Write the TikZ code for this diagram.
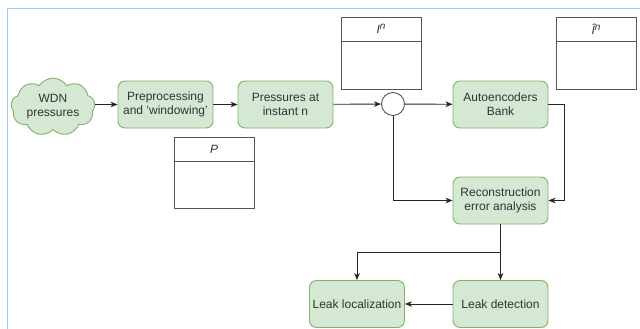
\documentclass[tikz,border=0pt]{standalone}
\usepackage{fontspec}
\setmainfont{Liberation Sans}
\usetikzlibrary{shapes.symbols,arrows.meta}
\definecolor{gfill}{HTML}{D5E8D4}
\definecolor{gdraw}{HTML}{82B366}
\definecolor{frameblue}{HTML}{99CCFF}
\definecolor{tblgray}{HTML}{555555}
\definecolor{txtgray}{HTML}{333333}
\newcommand{\supn}{\raisebox{3.5pt}{\fontsize{10}{10}\selectfont\itshape n}}
\tikzset{
  procbox/.style={draw=gdraw, fill=gfill, rounded corners=7, line width=0.9,
    minimum width=95, minimum height=47, align=center, inner sep=0,
    text=txtgray, font=\fontsize{12}{14}\selectfont},
  wdncloud/.style={cloud, draw=gdraw, fill=gfill, line width=0.9, cloud puffs=9,
    cloud puff arc=115, aspect=1.6, minimum width=84, minimum height=52,
    inner sep=0, align=center, text=txtgray, font=\fontsize{12}{14}\selectfont},
  tbl/.style={draw=tblgray, line width=0.9, minimum width=80, minimum height=72,
    inner sep=0},
  tblhead/.style={font=\fontsize{12}{14}\selectfont\itshape, text=txtgray, inner sep=0},
  junction/.style={circle, draw=tblgray, fill=white, line width=0.9,
    minimum size=23, inner sep=0},
  arr/.style={draw=black!85, line width=0.9, -{Stealth[length=7,width=5.5,inset=2]}}
}
\begin{document}
\begin{tikzpicture}[x=1pt,y=-1pt]
\useasboundingbox (0,0) rectangle (640,329);
\fill[white] (0,0) rectangle (640,329);
\draw[frameblue, line width=1] (7,329) -- (7,9) -- (640,9);

% nodes
\node[wdncloud] (wdn) at (53,107) {WDN\\pressures};
\node[procbox] (pre) at (165.5,104.5) {Preprocessing\\and 'windowing'};
\node[procbox] (pres) at (285.5,104.5) {Pressures at\\instant n};
\node[junction] (junc) at (393,104) {};
\node[procbox] (ae) at (500.5,104.5) {Autoencoders\\Bank};
\node[procbox] (rec) at (500.5,200.5) {Reconstruction\\error analysis};
\node[procbox] (loc) at (357,304) {Leak localization};
\node[procbox] (det) at (500.5,304) {Leak detection};

% tables
\node[tbl] (tIn) at (381,53) {};
\draw[tblgray, line width=0.9] (tIn.west |- 0,41) -- (tIn.east |- 0,41);
\node[tblhead] (hIn) at (381,29) {I\supn};
\node[tbl] (tIh) at (596,53) {};
\draw[tblgray, line width=0.9] (tIh.west |- 0,41) -- (tIh.east |- 0,41);
\node[tblhead] (hIh) at (596,29) {Î\supn};
\node[tbl, minimum height=71] (tP) at (214,172.5) {};
\draw[tblgray, line width=0.9] (tP.west |- 0,161) -- (tP.east |- 0,161);
\node[tblhead] (hP) at (214,149) {P};

% connectors
\coordinate (br) at (500.5,252);
\draw[arr] (wdn.east |- pre.west) -- (pre.west);
\draw[arr] (pre) -- (pres);
\draw[arr] (pres) -- (junc);
\draw[arr] (junc) -- (ae);
\draw[arr] (ae.east) -- ++(16,0) |- (rec.east);
\draw[arr] (junc.south) |- (rec.west);
\draw[arr] (rec.south) -- (det.north);
\draw[arr] (br) -| (loc.north);
\draw[arr] (det.west) -- (loc.east);
\end{tikzpicture}
\end{document}
